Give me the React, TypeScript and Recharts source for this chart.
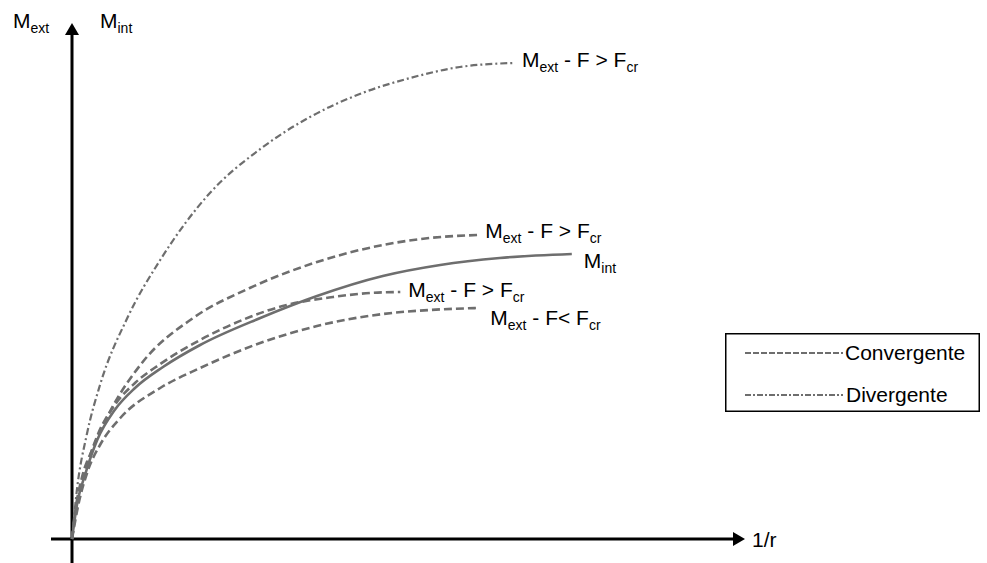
import React from "react";
import { LineChart, Line, XAxis, YAxis, ReferenceLine, ReferenceDot, Legend } from "recharts";

// 1/r (x) and M (y) readings, normalised units
const divX = [0, 0.7, 2.1, 4.0, 7.9, 12.6, 19.7, 26.9, 34.0, 41.1, 48.3, 55.4, 63.0];
const divY = [0, 9.8, 20.8, 30.8, 44.2, 55.8, 69.2, 78.0, 84.4, 89.0, 92.2, 94.4, 95.2];

const conv1X = [0, 0.6, 1.4, 3.0, 5.4, 10.1, 17.3, 25.4, 35.0, 44.4, 51.1, 57.9];
const conv1Y = [0, 6.8, 12.2, 18.2, 25.4, 35.4, 44.2, 50.2, 55.4, 58.8, 60.2, 60.8];

const mintX = [0, 0.7, 1.9, 3.6, 6.1, 9.0, 13.0, 18.3, 26.9, 35.0, 44.4, 52.6, 61.1, 71.4];
const mintY = [0, 6.8, 13.0, 19.8, 25.8, 30.2, 34.4, 38.8, 44.2, 48.6, 52.6, 54.8, 56.2, 57.0];

const conv2X = [0, 0.7, 1.9, 3.6, 6.1, 9.0, 12.6, 18.3, 25.4, 30.1, 37.3, 42.6, 46.9];
const conv2Y = [0, 7.2, 13.6, 20.6, 26.8, 31.2, 35.0, 39.8, 44.4, 46.6, 48.4, 49.2, 49.4];

const conv3X = [0, 0.9, 2.3, 4.0, 6.9, 12.6, 18.3, 26.1, 35.0, 44.4, 51.1, 57.9];
const conv3Y = [0, 6.8, 13.8, 18.8, 24.2, 30.2, 34.2, 38.8, 42.6, 45.0, 45.8, 46.2];

const legendLabels = ["Convergente", "Divergente"];
const axisLabels = { yLeft: ["M", "ext"], yRight: ["M", "int"], x: "1/r" };

const zip = (xs: number[], ys: number[]) => xs.map((x, i) => ({ x, y: ys[i] }));

const divData = zip(divX, divY);
const conv1Data = zip(conv1X, conv1Y);
const mintData = zip(mintX, mintY);
const conv2Data = zip(conv2X, conv2Y);
const conv3Data = zip(conv3X, conv3Y);

const FONT = "'Liberation Sans', Arial, sans-serif";
const GRAY = "#6e6e6e";
const FS = 21;
const SUB = 14;

type Part = { t: string; sub?: boolean };
const SubText = ({ x, y, parts }: { x: number; y: number; parts: Part[] }) => {
  let prevSub = false;
  return (
    <text x={x} y={y} fontFamily={FONT} fontSize={FS} fill="#000">
      {parts.map((p, i) => {
        let dy = 0;
        if (p.sub && !prevSub) dy = 5;
        if (!p.sub && prevSub) dy = -5;
        prevSub = !!p.sub;
        return (
          <tspan key={i} dy={dy} fontSize={p.sub ? SUB : FS} style={{ whiteSpace: "pre" }}>
            {p.t}
          </tspan>
        );
      })}
    </text>
  );
};

const gt: Part[] = [{ t: "M" }, { t: "ext", sub: true }, { t: " - F > F" }, { t: "cr", sub: true }];
const lt: Part[] = [{ t: "M" }, { t: "ext", sub: true }, { t: " - F< F" }, { t: "cr", sub: true }];
const mi: Part[] = [{ t: "M" }, { t: "int", sub: true }];

const endLabel = (parts: Part[], dx: number, dy: number) => (props: any) => (
  <SubText x={props.cx + dx} y={props.cy + dy} parts={parts} />
);

const arrowV = (props: any) => {
  const { x1, y1, y2 } = props;
  const top = Math.min(y1, y2);
  const bot = Math.max(y1, y2);
  return (
    <g>
      <line x1={x1} y1={bot} x2={x1} y2={top + 12} stroke="#000" strokeWidth={3} />
      <polygon points={`${x1},${top} ${x1 - 7},${top + 12} ${x1 + 7},${top + 12}`} fill="#000" />
    </g>
  );
};
const arrowH = (props: any) => {
  const { x1, y1, x2 } = props;
  const l = Math.min(x1, x2);
  const r = Math.max(x1, x2);
  return (
    <g>
      <line x1={l} y1={y1} x2={r - 12} y2={y1} stroke="#000" strokeWidth={3} />
      <polygon points={`${r},${y1} ${r - 12},${y1 - 7} ${r - 12},${y1 + 7}`} fill="#000" />
    </g>
  );
};

const LegendBox = () => (
  <svg width={255} height={79} style={{ display: "block" }}>
    <rect x={0.75} y={0.75} width={253.5} height={77.5} fill="#fff" stroke="#000" strokeWidth={1.5} />
    <line x1={20} y1={20} x2={118} y2={20} stroke={GRAY} strokeWidth={2} strokeDasharray="6 2" />
    <text x={120} y={27} fontFamily={FONT} fontSize={FS} fill="#000">{legendLabels[0]}</text>
    <line x1={20} y1={62} x2={118} y2={62} stroke={GRAY} strokeWidth={2} strokeDasharray="6 2 2 2" />
    <text x={121} y={69} fontFamily={FONT} fontSize={FS} fill="#000">{legendLabels[1]}</text>
  </svg>
);

const last = (d: { x: number; y: number }[]) => d[d.length - 1];

export default function App() {
  return (
    <div style={{ position: "absolute", left: 0, top: 0, width: 987, height: 563, background: "#fff" }}>
      <LineChart width={987} height={563} margin={{ top: 23, left: 51, right: 242, bottom: 0 }}>
        <XAxis type="number" dataKey="x" domain={[-3, 96.142857]} allowDataOverflow hide />
        <YAxis type="number" dataKey="y" domain={[-4.8, 103.2]} allowDataOverflow hide />
        <ReferenceLine
          segment={[{ x: 0, y: -4.8 }, { x: 0, y: 103.2 }]}
          shape={arrowV}
          ifOverflow="visible"
        />
        <ReferenceLine
          segment={[{ x: -3, y: 0 }, { x: 96.142857, y: 0 }]}
          shape={arrowH}
          ifOverflow="visible"
        />
        <Line data={divData} dataKey="y" type="monotone" stroke={GRAY} strokeWidth={2.2} strokeDasharray="7 3 2 3" dot={false} isAnimationActive={false} />
        <Line data={conv1Data} dataKey="y" type="monotone" stroke={GRAY} strokeWidth={2.6} strokeDasharray="8 4" dot={false} isAnimationActive={false} />
        <Line data={mintData} dataKey="y" type="monotone" stroke={GRAY} strokeWidth={2.6} dot={false} isAnimationActive={false} />
        <Line data={conv2Data} dataKey="y" type="monotone" stroke={GRAY} strokeWidth={2.6} strokeDasharray="8 4" dot={false} isAnimationActive={false} />
        <Line data={conv3Data} dataKey="y" type="monotone" stroke={GRAY} strokeWidth={2.6} strokeDasharray="8 4" dot={false} isAnimationActive={false} />
        <ReferenceDot x={last(divData).x} y={last(divData).y} r={0} ifOverflow="visible" shape={endLabel(gt, 9, 4)} />
        <ReferenceDot x={last(conv1Data).x} y={last(conv1Data).y} r={0} ifOverflow="visible" shape={endLabel(gt, 8, 3)} />
        <ReferenceDot x={last(mintData).x} y={last(mintData).y} r={0} ifOverflow="visible" shape={endLabel(mi, 12, 14)} />
        <ReferenceDot x={last(conv2Data).x} y={last(conv2Data).y} r={0} ifOverflow="visible" shape={endLabel(gt, 8, 5)} />
        <ReferenceDot x={last(conv3Data).x} y={last(conv3Data).y} r={0} ifOverflow="visible" shape={endLabel(lt, 13, 17)} />
        <ReferenceDot x={-3} y={103.2} r={0} ifOverflow="visible" shape={(p: any) => <SubText x={p.cx - 38} y={p.cy + 5} parts={[{ t: axisLabels.yLeft[0] }, { t: axisLabels.yLeft[1], sub: true }]} />} />
        <ReferenceDot x={0} y={103.2} r={0} ifOverflow="visible" shape={(p: any) => <SubText x={p.cx + 28} y={p.cy + 5} parts={[{ t: axisLabels.yRight[0] }, { t: axisLabels.yRight[1], sub: true }]} />} />
        <ReferenceDot x={96.142857} y={0} r={0} ifOverflow="visible" shape={(p: any) => <text x={p.cx + 7} y={p.cy + 8} fontFamily={FONT} fontSize={FS} fill="#000">{axisLabels.x}</text>} />
        <Legend
          layout="horizontal"
          verticalAlign="middle"
          align="center"
          content={() => <LegendBox />}
          wrapperStyle={{ position: "absolute", left: 725, top: 333, width: 255, height: 79, margin: 0, padding: 0 }}
        />
      </LineChart>
    </div>
  );
}
